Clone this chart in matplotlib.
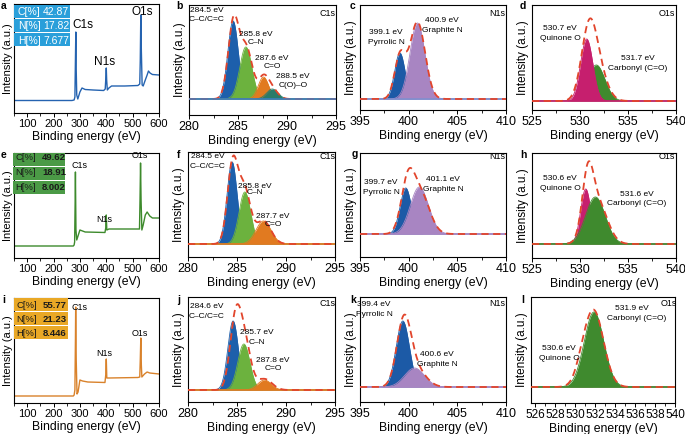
import numpy as np
import matplotlib
matplotlib.use("Agg")
import matplotlib.pyplot as plt
from matplotlib.patches import Rectangle
from matplotlib.ticker import MultipleLocator

plt.rcParams['font.family'] = ['Liberation Sans', 'DejaVu Sans']

# ---------------- DATA ----------------
# Survey spectra (binding energy eV, intensity a.u.)
survey_a_eV = [50, 270, 278, 281, 283, 284.5, 286, 288, 292, 300, 308, 320, 350, 390, 396, 399, 400, 401.5, 404, 410,
               420, 470, 520, 527, 529, 531, 533, 536, 540, 548, 555, 560, 566, 575, 600]
survey_a_I = [12.5, 12.5, 13, 16, 53, 81, 43, 18, 14, 21, 25, 23.5, 23, 22.5, 24, 38, 45, 33, 23, 25,
              27, 27, 27.5, 29, 53, 98, 63, 28, 27, 33, 38, 42, 40, 38.5, 38]
survey_e_eV = [50, 275, 278, 280, 282, 283, 285, 288, 300, 310, 320, 395, 398, 400, 402, 410, 520, 526, 528, 530, 532,
               535, 540, 548, 555, 565, 575, 600]
survey_e_I = [12, 12, 13, 16, 58, 86, 28, 18, 28, 27, 26, 25.5, 30, 43, 28, 29, 29, 29, 58, 95, 58,
              28, 33, 43, 46, 42, 40, 40]
survey_i_eV = [50, 275, 278, 281, 283, 284, 286, 289, 293, 300, 310, 330, 395, 398, 400, 402, 410, 520, 527, 529, 531,
               533, 535, 545, 555, 565, 600]
survey_i_I = [7, 7, 8, 13, 63, 96, 43, 9, 11, 23, 22, 21, 20.5, 28, 44, 25, 25, 25.5, 26, 43, 65,
              38, 26, 29, 31, 30, 29]

survey_peaks = ["C1s", "N1s", "O1s"]
comp_a = [42.87, 17.82, 7.677]
comp_e = [49.62, 18.91, 8.002]
comp_i = [55.77, 21.23, 8.446]
comp_rows = ["C[%]", "N[%]", "H[%]"]

# High-resolution fitted components (centre eV, height a.u., FWHM eV) in drawing order
b_names = ["C–C/C=C", "C–N", "C=O", "C(O)–O"]
b_centers = [284.5, 285.8, 287.6, 288.5]
b_heights = [78, 52, 22, 10]
b_fwhm = [1.25, 1.45, 1.25, 1.35]
b_env_centers = [284.55, 285.85, 287.6, 288.5]
b_env_heights = [78, 50, 21, 9]
b_env_fwhm = [1.3, 1.45, 1.25, 1.35]

c_names = ["Pyrrolic N", "Graphite N"]
c_centers = [399.1, 400.9]
c_heights = [46, 76]
c_fwhm = [1.25, 1.8]
c_env_centers = [399.1, 400.9]
c_env_heights = [42, 77]
c_env_fwhm = [1.3, 1.85]

d_names = ["Carbonyl (C=O)", "Quinone O"]
d_centers = [531.7, 530.7]
d_heights = [36, 62]
d_fwhm = [2.1, 1.5]
d_env_centers = [530.9, 531.8]
d_env_heights = [62, 30]
d_env_fwhm = [1.85, 2.2]

f_names = ["C–C/C=C", "C–N", "C=O"]
f_centers = [284.5, 285.8, 287.7]
f_heights = [82, 52, 23]
f_fwhm = [1.2, 1.4, 1.8]
f_env_centers = [284.55, 285.75, 287.7]
f_env_heights = [79, 54, 23]
f_env_fwhm = [1.25, 1.45, 1.8]

g_names = ["Pyrrolic N", "Graphite N"]
g_centers = [399.7, 401.1]
g_heights = [46, 47]
g_fwhm = [1.35, 2.2]
g_env_centers = [399.9, 401.2]
g_env_heights = [48, 40]
g_env_fwhm = [1.6, 2.2]

h_names = ["Quinone O", "Carbonyl (C=O)"]
h_centers = [530.6, 531.6]
h_heights = [55, 47]
h_fwhm = [1.25, 2.4]
h_env_centers = [530.8, 531.8]
h_env_heights = [55, 42]
h_env_fwhm = [1.35, 2.4]

j_names = ["C–C/C=C", "C–N", "C=O"]
j_centers = [284.6, 285.7, 287.8]
j_heights = [69, 46, 10]
j_fwhm = [1.25, 1.45, 1.6]
j_env_centers = [284.85, 285.8, 287.8]
j_env_heights = [69, 44, 11]
j_env_fwhm = [1.35, 1.45, 1.8]

k_names = ["Pyrrolic N", "Graphite N"]
k_centers = [399.4, 400.6]
k_heights = [66, 19]
k_fwhm = [1.6, 2.4]
k_env_centers = [399.5, 400.7]
k_env_heights = [63, 18]
k_env_fwhm = [1.7, 2.4]

l_names = ["Quinone O", "Carbonyl (C=O)"]
l_centers = [530.6, 531.9]
l_heights = [5, 75]
l_fwhm = [1.2, 2.3]
l_env_centers = [530.6, 531.85]
l_env_heights = [6, 77]
l_env_fwhm = [1.3, 2.35]

# ---------------- STYLE ----------------
COL = {"C–C/C=C": "#1d5fab", "C–N": "#6cb23e", "C=O": "#e17a20", "C(O)–O": "#2a7b69",
       "Pyrrolic N": "#1c5aa6", "Graphite N": "#a885c2",
       "Quinone O": "#c61f6e", "Carbonyl (C=O)": "#3f8a2e"}
ENV = "#e2452c"

W, H = 685, 434
fig = plt.figure(figsize=(W / 100, H / 100), dpi=100)


def add_ax(l, t, r, b):
    return fig.add_axes([l / W, 1 - b / H, (r - l) / W, (b - t) / H])


def ftxt(x, y, s, size=6, ha="center", va="center", **kw):
    fig.text(x / W, 1 - y / H, s, fontsize=size, ha=ha, va=va, **kw)


def style(ax, xlim, ylim, major, minor, tsize=9, ysize=8.5, ypad=2):
    ax.set_xlim(*xlim)
    ax.set_ylim(*ylim)
    ax.set_yticks([])
    ax.xaxis.set_major_locator(MultipleLocator(major))
    ax.xaxis.set_minor_locator(MultipleLocator(minor))
    ax.tick_params(axis="x", which="major", direction="out", length=3, width=0.7, labelsize=tsize, pad=1.5)
    ax.tick_params(axis="x", which="minor", direction="out", length=1.8, width=0.6)
    for s in ax.spines.values():
        s.set_linewidth(0.8)
    ax.set_xlabel("Binding energy (eV)", fontsize=8.8, labelpad=1.5)
    ax.set_ylabel("Intensity (a.u.)", fontsize=ysize, labelpad=ypad)


def gauss(x, c, h, w):
    s = w / 2.3548
    return h * np.exp(-0.5 * ((x - c) / s) ** 2)


def hr_panel(box, xlim, ylim, major, minor, names, cs, hs, ws, ec, eh, ew, base_col, base_top=False):
    ax = add_ax(*box)
    x = np.linspace(xlim[0], xlim[1], 1500)
    for i, (n, c, h, w) in enumerate(zip(names, cs, hs, ws)):
        y = gauss(x, c, h, w)
        ax.fill_between(x, 0, y, color=COL[n], lw=0, zorder=2 + i)
        ax.plot(x, y, color=COL[n], lw=0.6, zorder=2 + i)
    env = sum(gauss(x, c, h, w) for c, h, w in zip(ec, eh, ew))
    ax.axhline(0, color=base_col, lw=1.1, zorder=8 if base_top else 6)
    ax.plot(x, env, color=ENV, lw=1.3, ls=(0, (4, 2.5)), zorder=7)
    style(ax, xlim, ylim, major, minor)
    return ax


def survey_panel(box, eV, I, ylim, color, tsize=8):
    ax = add_ax(*box)
    ax.plot(eV, I, color=color, lw=1.0)
    style(ax, (50, 600), ylim, 100, 50, tsize=tsize, ysize=8, ypad=0.8)
    return ax


# ---------------- ROW 1 ----------------
survey_panel((14, 4, 159, 113), survey_a_eV, survey_a_I, (0, 109), "#2563b0")
hr_panel((189, 5, 336, 115), (280, 295), (-16, 94), 5, 2.5, b_names, b_centers, b_heights, b_fwhm,
         b_env_centers, b_env_heights, b_env_fwhm, "#3a7fc6", base_top=True)
hr_panel((360, 5, 506, 110), (395, 410), (-11, 94), 5, 2.5, c_names, c_centers, c_heights, c_fwhm,
         c_env_centers, c_env_heights, c_env_fwhm, "#7d8fd0")
hr_panel((532, 5, 676, 110), (525, 540), (-9, 96), 5, 2.5, d_names, d_centers, d_heights, d_fwhm,
         d_env_centers, d_env_heights, d_env_fwhm, "#c61f6e")

# ---------------- ROW 2 ----------------
survey_panel((14, 153, 159, 258), survey_e_eV, survey_e_I, (0, 105), "#3d8a2c")
hr_panel((188, 152, 335, 257), (280, 295), (-13, 92), 5, 2.5, f_names, f_centers, f_heights, f_fwhm,
         f_env_centers, f_env_heights, f_env_fwhm, "#e17a20")
hr_panel((360, 153, 506, 257), (395, 410), (-23, 81), 5, 2.5, g_names, g_centers, g_heights, g_fwhm,
         g_env_centers, g_env_heights, g_env_fwhm, "#a885c2")
hr_panel((532, 153, 676, 258), (525, 540), (-14, 91), 5, 2.5, h_names, h_centers, h_heights, h_fwhm,
         h_env_centers, h_env_heights, h_env_fwhm, "#3f8a2e")

# ---------------- ROW 3 ----------------
survey_panel((14, 298, 159, 403), survey_i_eV, survey_i_I, (0, 105), "#d9822b")
hr_panel((188, 297, 335, 402), (280, 295), (-12, 93), 5, 2.5, j_names, j_centers, j_heights, j_fwhm,
         j_env_centers, j_env_heights, j_env_fwhm, "#e17a20")
hr_panel((360, 297, 506, 402), (395, 410), (-15, 90), 5, 2.5, k_names, k_centers, k_heights, k_fwhm,
         k_env_centers, k_env_heights, k_env_fwhm, "#a885c2")
axl = hr_panel((531, 297, 675, 403), (525.6, 540), (-16, 90), 2, 1, l_names, l_centers, l_heights, l_fwhm,
               l_env_centers, l_env_heights, l_env_fwhm, "#3f8a2e")
axl.tick_params(axis="x", labelsize=8.5)


# ---------------- composition boxes ----------------
def comp_box(x0, y0, x1, y1, rows_y, color, vals, tcol, bold, xl, xv, size=7.5):
    n = len(rows_y)
    hh = (y1 - y0) / n
    for k in range(n):
        fig.patches.append(Rectangle((x0 / W, 1 - (y0 + (k + 1) * hh - 0.4) / H), (x1 - x0) / W, (hh - 0.8) / H,
                                     transform=fig.transFigure, facecolor=color, edgecolor="none", zorder=5))
    for ry, lab_, v in zip(rows_y, comp_rows, vals):
        ftxt(xl, ry, lab_, size=size, ha="left", color=tcol, zorder=6)
        ftxt(xv, ry, f"{v}", size=size, ha="left", color=tcol, zorder=6,
             fontweight="bold" if bold else "normal")


comp_box(14, 4.5, 70, 46, [12, 26, 40.5], "#2a9fda", comp_a, "white", False, 18, 43, size=7.5)
comp_box(13, 153, 65, 194, [157.5, 172.5, 188], "#4b9a46", comp_e, "#1a1a1a", True, 15, 42, size=6.8)
comp_box(14, 298, 68, 339, [305.5, 319, 333], "#e9a826", comp_i, "#1a1a1a", True, 16.5, 43, size=6.8)

# ---------------- survey peak labels ----------------
for (x, y), s in zip([(83, 25), (105, 62), (142, 12)], survey_peaks):
    ftxt(x, y, s, size=8.5)
for (x, y), s in zip([(79, 165), (104, 219), (140, 156)], survey_peaks):
    ftxt(x, y, s, size=6.5)
for (x, y), s in zip([(79, 308), (104, 353), (140, 333)], survey_peaks):
    ftxt(x, y, s, size=6.5)


# ---------------- HR annotations ----------------
def lab(x, y, e, name, dy=8.5, size=6):
    ftxt(x, y, f"{e} eV", size=size)
    ftxt(x, y + dy, name, size=size)


lab(207, 11, b_centers[0], b_names[0])
lab(256, 34, b_centers[1], b_names[1])
lab(272, 58, b_centers[2], b_names[2])
lab(293, 77, b_centers[3], b_names[3])
lab(386, 33, c_centers[0], c_names[0], dy=10)
lab(442, 20, c_centers[1], c_names[1], dy=10)
lab(560, 28, d_centers[1], d_names[1], dy=10)
lab(638, 58, d_centers[0], d_names[0], dy=10)

lab(208, 157, f_centers[0], f_names[0], dy=10)
lab(255, 186, f_centers[1], f_names[1], dy=7)
lab(273, 217, f_centers[2], f_names[2], dy=8)
lab(381, 183, g_centers[0], g_names[0], dy=10)
lab(443, 179, g_centers[1], g_names[1], dy=10)
lab(560, 178, h_centers[0], h_names[0], dy=10)
lab(637, 195, h_centers[1], h_names[1], dy=9)

lab(207, 307, j_centers[0], j_names[0], dy=9)
lab(257, 333, j_centers[1], j_names[1], dy=9)
lab(273, 360, j_centers[2], j_names[2], dy=8)
lab(374, 305, k_centers[0], k_names[0], dy=9)
lab(437, 355, k_centers[1], k_names[1], dy=10)
lab(559, 348, l_centers[0], l_names[0], dy=11)
ftxt(632, 309, f"{l_centers[1]} eV", size=6)
ftxt(637, 318, l_names[1], size=6)

# element labels
for x, y, s in [(327, 13, "C1s"), (497, 13, "N1s"), (667, 13, "O1s"),
                (328, 157, "C1s"), (497, 157, "N1s"), (667, 157, "O1s"),
                (328, 304, "C1s"), (497, 304, "N1s"), (669, 304, "O1s")]:
    ftxt(x, y, s, size=6.5)

# panel letters
for x, y, s in [(4, 6, "a"), (179, 6, "b"), (353, 6, "c"), (523, 6, "d"),
                (4, 155, "e"), (179, 155, "f"), (355, 154, "g"), (523, 155, "h"),
                (4, 300, "i"), (179, 300, "j"), (353, 300, "k"), (523, 300, "l")]:
    ftxt(x, y, s, size=7.5, fontweight="bold")

fig.savefig("out.png", dpi=100)
